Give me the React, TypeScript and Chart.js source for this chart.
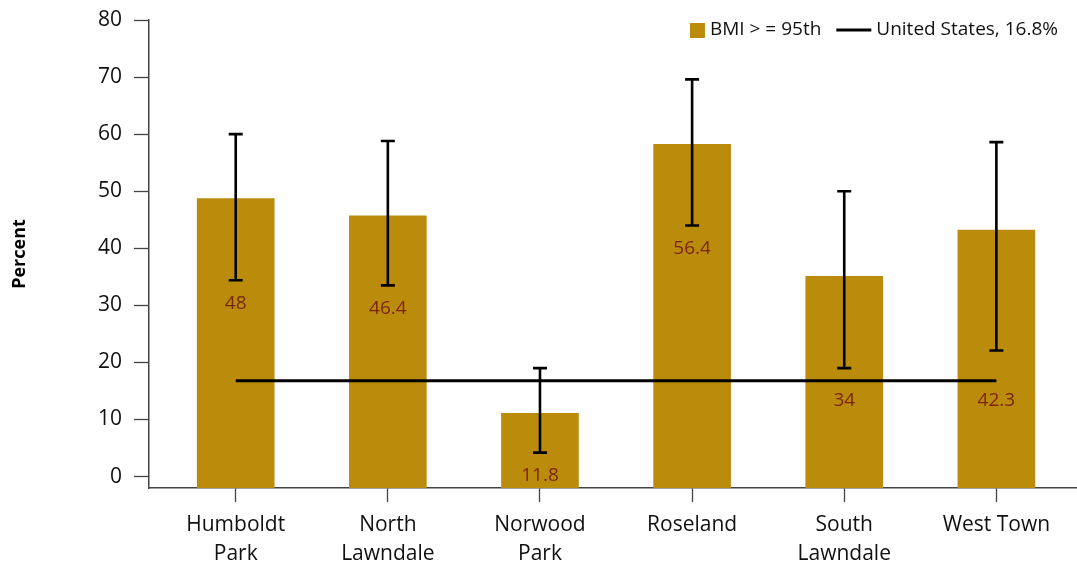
import React, { useEffect, useRef } from 'react';
import { Chart, registerables } from 'chart.js';

Chart.register(...registerables);

const categories: string[][] = [
  ['Humboldt', 'Park'],
  ['North', 'Lawndale'],
  ['Norwood', 'Park'],
  ['Roseland'],
  ['South', 'Lawndale'],
  ['West Town'],
];
const barValues = [48.7, 45.7, 11.1, 58.2, 35.1, 43.2];
const errLow = [34.4, 33.5, 4.2, 44.0, 19.0, 22.1];
const errHigh = [60.0, 58.8, 19.0, 69.6, 50.0, 58.6];
const valueLabels = ['48', '46.4', '11.8', '56.4', '34', '42.3'];
const usValue = 16.8;
const seriesName = 'BMI > = 95th';
const usName = 'United States, 16.8%';
const yTickStep = 10;
const yMin = -2;
const yMax = 80;

const FONT = "'Open Sans', 'DejaVu Sans', sans-serif";
const BAR_COLOR = '#BB8C0B';
const LABEL_COLOR = '#7A260A';
const AXIS_COLOR = '#444444';

const errorBarPlugin = {
  id: 'errorBars',
  afterDatasetsDraw(chart: any) {
    const x = chart.scales.x;
    const y = chart.scales.y;
    const ctx = chart.ctx;
    ctx.save();
    ctx.strokeStyle = '#000';
    ctx.lineWidth = 2.6;
    const cap = 7;
    const lineY = y.getPixelForValue(usValue);
    for (let i = 0; i < barValues.length; i++) {
      const px = x.getPixelForValue(i);
      const yl = y.getPixelForValue(errLow[i]);
      const yh = y.getPixelForValue(errHigh[i]);
      ctx.beginPath();
      ctx.moveTo(px, yh);
      ctx.lineTo(px, yl);
      ctx.moveTo(px - cap, yh);
      ctx.lineTo(px + cap, yh);
      ctx.moveTo(px - cap, yl);
      ctx.lineTo(px + cap, yl);
      ctx.stroke();
    }
    ctx.fillStyle = LABEL_COLOR;
    ctx.font = `19px ${FONT}`;
    ctx.textAlign = 'center';
    ctx.textBaseline = 'middle';
    for (let i = 0; i < valueLabels.length; i++) {
      const px = x.getPixelForValue(i);
      let ly = y.getPixelForValue(errLow[i]) + 23;
      if (Math.abs(ly - lineY) < 11) ly = lineY + 20;
      ctx.fillText(valueLabels[i], px, ly);
    }
    ctx.restore();
  },
};

const legendPlugin = {
  id: 'customLegend',
  afterDraw(chart: any) {
    const ctx = chart.ctx;
    ctx.save();
    ctx.font = `19px ${FONT}`;
    ctx.textBaseline = 'middle';
    ctx.textAlign = 'left';
    const cy = 30;
    const right = 1058;
    const w2 = ctx.measureText(usName).width;
    const x2text = right - w2;
    const lineEnd = x2text - 5;
    const lineStart = lineEnd - 35;
    const w1 = ctx.measureText(seriesName).width;
    const x1text = lineStart - 15 - w1;
    const sqRight = x1text - 5;
    ctx.fillStyle = BAR_COLOR;
    ctx.fillRect(sqRight - 15, cy - 7, 15, 15);
    ctx.fillStyle = '#111';
    ctx.fillText(seriesName, x1text, cy);
    ctx.strokeStyle = '#000';
    ctx.lineWidth = 3;
    ctx.beginPath();
    ctx.moveTo(lineStart, cy);
    ctx.lineTo(lineEnd, cy);
    ctx.stroke();
    ctx.fillText(usName, x2text, cy);
    ctx.restore();
  },
};

export default function App() {
  const ref = useRef<HTMLCanvasElement | null>(null);
  useEffect(() => {
    if (!ref.current) return;
    const chart = new Chart(ref.current, {
      type: 'bar',
      data: {
        datasets: [
          {
            type: 'line',
            label: usName,
            data: categories.map((_, i) => ({ x: i, y: usValue })),
            borderColor: '#000',
            borderWidth: 3,
            pointRadius: 0,
            fill: false,
            order: 0,
          } as any,
          {
            type: 'bar',
            label: seriesName,
            data: barValues.map((v, i) => ({ x: i, y: v })),
            backgroundColor: BAR_COLOR,
            borderWidth: 0,
            barThickness: 77,
            base: yMin,
            order: 1,
          } as any,
        ],
      },
      options: {
        animation: false,
        responsive: true,
        maintainAspectRatio: false,
        layout: { padding: { top: 20, left: 0, right: 0, bottom: 0 } },
        plugins: {
          legend: { display: false },
          tooltip: { enabled: false },
        },
        scales: {
          x: {
            type: 'linear',
            min: -0.57,
            max: 5.53,
            offset: false,
            ticks: {
              stepSize: 1,
              includeBounds: false,
              autoSkip: false,
              maxRotation: 0,
              padding: 9,
              color: '#111',
              font: { family: FONT, size: 21, lineHeight: 1.35 },
              callback: (v: any) => {
                const i = Math.round(Number(v));
                return categories[i] ?? '';
              },
            },
            grid: {
              offset: false,
              drawOnChartArea: false,
              drawTicks: true,
              tickLength: 14,
              tickColor: AXIS_COLOR,
              tickWidth: 1.3,
            },
            border: { display: true, color: AXIS_COLOR, width: 1.5 },
            afterFit: (s: any) => {
              s.height = 75;
              s.paddingLeft = 0;
              s.paddingRight = 0;
            },
          } as any,
          y: {
            type: 'linear',
            min: yMin,
            max: yMax,
            ticks: {
              stepSize: yTickStep,
              includeBounds: false,
              padding: 12,
              color: '#111',
              font: { family: FONT, size: 21 },
            },
            grid: {
              drawOnChartArea: false,
              drawTicks: true,
              tickLength: 15,
              tickColor: AXIS_COLOR,
              tickWidth: 1.3,
            },
            border: { display: true, color: AXIS_COLOR, width: 1.5 },
            title: {
              display: true,
              text: 'Percent',
              color: '#000',
              font: { family: FONT, size: 18, weight: 'bold' },
              padding: { top: 9, bottom: 0 },
            },
            afterFit: (s: any) => {
              s.width = 149;
              s.paddingTop = 0;
              s.paddingBottom = 0;
            },
          } as any,
        },
      },
      plugins: [errorBarPlugin, legendPlugin],
    });
    return () => chart.destroy();
  }, []);
  return (
    <div style={{ position: 'absolute', left: 0, top: 0, width: 1077, height: 563, background: '#fff' }}>
      <canvas ref={ref} />
    </div>
  );
}
